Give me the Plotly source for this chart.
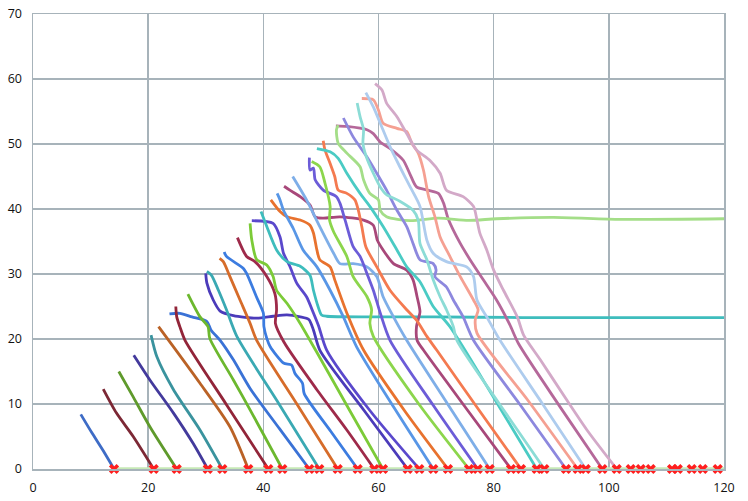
import plotly.graph_objects as go

# ---- data (x, y) ----
s01_x = [8.3, 10.2, 12.2, 14.07]
s01_y = [8.4, 5.6, 2.8, 0]
s02_x = [12.2, 14.5, 17.4, 20.96]
s02_y = [12.3, 8.6, 5.0, 0]
s03_x = [14.9, 17.4, 20.3, 24.96]
s03_y = [15.0, 11.1, 6.5, 0]
s04_x = [17.5, 20.3, 24.4, 27.8, 30.34]
s04_y = [17.5, 13.7, 8.6, 3.95, 0]
s05_x = [20.5, 21.5, 24.4, 29.0, 32.88]
s05_y = [20.6, 17.3, 12.2, 6.0, 0]
s06_x = [21.8, 24.4, 29.0, 34.2, 37.39]
s06_y = [21.9, 18.8, 13.2, 6.5, 0]
s07_x = [23.7, 25.5, 27.6, 30.2, 30.9, 32.5, 34.8, 37.7, 42.8, 47.98]
s07_y = [23.85, 23.95, 23.4, 22.7, 21.4, 19.8, 16.8, 12.4, 6.2, 0]
s08_x = [24.8, 24.96, 25.5, 26.4, 33.6, 40.87]
s08_y = [25.0, 23.4, 21.9, 19.8, 9.9, 0]
s09_x = [26.9, 29.0, 30.4, 30.7, 34.8, 37.7, 43.3]
s09_y = [26.9, 23.4, 21.9, 20.1, 13.7, 9.1, 0]
s10_x = [30.0, 30.2, 31.3, 32.5, 34.8, 38.9, 41.7, 44.1, 46.4, 47.9, 48.7, 49.8, 57.5, 65.07]
s10_y = [30.1, 28.6, 26.0, 24.3, 23.6, 23.2, 23.5, 23.7, 23.4, 23.0, 21.4, 18.3, 9.0, 0]
s11_x = [30.2, 31.0, 32.2, 33.6, 35.4, 42.8, 49.72]
s11_y = [30.4, 29.8, 27.5, 24.5, 20.4, 9.9, 0]
s12_x = [32.4, 33.05, 34.2, 35.95, 37.7, 38.85, 45.9, 52.92]
s12_y = [32.4, 31.9, 29.6, 26.0, 22.4, 19.8, 9.9, 0]
s13_x = [33.2, 33.6, 36.5, 37.1, 38.8, 40.0, 40.1, 40.6, 41.2, 43.5, 44.9, 45.5, 46.8, 47.1, 51.7, 56.39]
s13_y = [33.4, 32.7, 30.9, 30.1, 26.5, 24.0, 21.9, 20.1, 18.8, 16.3, 16.0, 14.7, 13.2, 11.6, 5.8, 0]
s14_x = [35.5, 37.1, 38.55, 40.6, 42.0, 42.3, 42.1, 43.6, 49.3, 54.5, 59.27]
s14_y = [35.6, 32.7, 31.9, 29.6, 27.0, 24.5, 22.4, 19.5, 12.2, 6.0, 0]
s15_x = [37.7, 38.0, 38.85, 40.6, 41.7, 42.3, 44.1, 46.4, 49.9, 55.0, 60.78]
s15_y = [37.8, 35.2, 32.2, 31.4, 29.6, 27.5, 25.5, 22.4, 17.0, 9.0, 0]
s16_x = [38.0, 41.7, 42.9, 43.5, 44.6, 45.8, 47.5, 48.7, 49.6, 51.0, 58.5, 67.09]
s16_y = [38.2, 37.8, 35.7, 33.2, 31.2, 28.6, 26.5, 24.0, 22.0, 18.3, 9.0, 0]
s17_x = [39.6, 40.6, 42.3, 44.1, 46.4, 48.1, 48.7, 49.5, 50.1, 51.0, 58.6, 69.5, 85.0, 100.0, 120.0]
s17_y = [39.6, 37.3, 33.7, 31.9, 31.2, 29.8, 27.5, 25.0, 23.7, 23.5, 23.4, 23.4, 23.3, 23.3, 23.3]
s18_x = [41.3, 42.9, 44.1, 46.4, 48.1, 48.7, 49.3, 49.8, 51.6, 52.4, 54.5, 57.4, 64.5, 72.07]
s18_y = [41.4, 39.6, 38.8, 38.3, 37.5, 36.3, 33.7, 32.2, 31.1, 29.1, 24.0, 18.3, 9.0, 0]
s19_x = [42.4, 42.9, 43.5, 45.2, 46.9, 49.3, 51.6, 53.9, 56.2, 62.8, 69.52]
s19_y = [42.4, 41.4, 39.8, 37.0, 33.7, 31.1, 27.5, 23.4, 18.8, 9.3, 0]
s20_x = [43.6, 44.6, 46.4, 48.1, 49.0, 50.4, 53.3, 57.4, 59.1, 59.8, 60.8, 62.6, 64.9, 66.0, 66.7, 67.2, 66.6, 66.7, 67.8, 75.5, 83.01]
s20_y = [43.5, 42.9, 41.9, 40.6, 38.8, 38.6, 38.8, 38.3, 37.5, 35.2, 33.7, 31.6, 30.6, 29.1, 26.5, 24.2, 21.9, 19.8, 18.3, 9.0, 0]
s21_x = [45.1, 47.5, 49.8, 52.2, 53.3, 55.6, 58.0, 59.7, 60.8, 62.6, 64.9, 72.0, 79.31]
s21_y = [45.0, 41.4, 37.3, 33.2, 31.6, 31.6, 31.1, 29.6, 26.5, 23.4, 19.8, 10.0, 0]
s22_x = [48.0, 48.1, 48.7, 49.0, 50.4, 52.7, 53.3, 54.2, 55.6, 56.8, 58.2, 59.1, 60.3, 62.0, 69.5, 77.23]
s22_y = [47.9, 46.0, 46.3, 44.5, 42.9, 41.9, 40.9, 38.3, 34.2, 32.7, 29.6, 27.5, 24.0, 19.8, 9.8, 0]
s23_x = [48.4, 49.8, 50.7, 51.6, 51.5, 52.2, 54.5, 55.6, 58.0, 58.8, 58.5, 59.1, 67.0, 75.72]
s23_y = [47.3, 46.5, 44.0, 40.4, 38.3, 36.5, 32.7, 29.6, 26.5, 24.5, 22.4, 20.4, 10.0, 0]
s24_x = [50.4, 50.7, 51.6, 52.4, 53.0, 54.5, 55.9, 56.5, 57.1, 57.8, 59.7, 62.0, 64.9, 66.6, 68.4, 70.1, 77.5, 84.75]
s24_y = [50.5, 49.1, 47.0, 45.0, 42.9, 42.4, 41.4, 39.8, 37.3, 34.2, 31.1, 27.5, 24.5, 22.9, 20.4, 18.3, 9.0, 0]
s25_x = [49.3, 51.6, 53.0, 54.5, 56.8, 58.5, 60.8, 63.2, 64.9, 67.2, 69.5, 72.4, 80.0, 87.48]
s25_y = [49.3, 48.8, 47.8, 45.5, 42.4, 40.4, 37.3, 33.7, 31.1, 28.8, 25.0, 21.9, 11.0, 0]
s26_x = [52.6, 54.5, 58.0, 59.1, 60.3, 62.3, 64.3, 65.5, 66.6, 68.5, 70.4, 71.3, 72.1, 74.2, 75.9, 78.2, 80.5, 82.8, 84.3, 91.5, 98.87]
s26_y = [52.8, 52.7, 52.2, 51.6, 50.3, 49.1, 47.5, 45.3, 43.4, 42.9, 42.4, 40.9, 38.5, 34.7, 32.2, 29.1, 26.0, 22.2, 19.3, 9.6, 0]
s27_x = [53.0, 52.7, 53.0, 54.5, 56.8, 57.4, 58.5, 60.0, 60.3, 61.4, 65.5, 70.4, 75.6, 80.5, 90.4, 102.0, 120.0]
s27_y = [52.9, 52.2, 50.1, 48.6, 46.5, 44.5, 42.4, 41.4, 39.8, 38.8, 38.2, 38.6, 38.25, 38.5, 38.7, 38.4, 38.5]
s28_x = [53.9, 55.6, 58.0, 59.7, 61.4, 63.2, 64.9, 66.0, 67.2, 69.5, 70.0, 69.8, 71.8, 73.0, 74.7, 76.5, 84.5, 92.57]
s28_y = [54.0, 51.1, 48.0, 45.5, 42.9, 39.8, 37.3, 34.7, 32.2, 31.6, 30.6, 29.6, 28.0, 26.0, 23.4, 19.8, 10.0, 0]
s29_x = [56.3, 56.8, 57.4, 57.3, 57.9, 59.1, 60.3, 61.4, 63.7, 66.0, 66.9, 67.2, 68.4, 69.5, 70.7, 71.8, 73.0, 73.6, 81.0, 88.80]
s29_y = [56.3, 54.2, 52.2, 50.1, 48.0, 45.5, 43.4, 42.2, 41.2, 39.8, 38.3, 34.7, 32.2, 29.1, 26.5, 24.5, 21.9, 19.8, 10.0, 0]
s30_x = [57.1, 59.1, 60.0, 60.8, 63.2, 64.9, 65.8, 66.9, 67.8, 68.7, 69.8, 70.7, 72.4, 74.2, 76.5, 77.3, 76.8, 77.1, 86.0, 94.60]
s30_y = [57.0, 56.8, 55.2, 53.2, 52.4, 51.9, 50.1, 48.6, 46.0, 41.9, 38.8, 35.7, 32.7, 29.6, 26.0, 24.5, 22.9, 20.9, 10.5, 0]
s31_x = [57.8, 59.1, 60.3, 62.0, 63.7, 65.5, 67.2, 68.4, 69.5, 71.8, 75.3, 76.5, 77.1, 78.8, 81.1, 88.5, 95.99]
s31_y = [57.9, 55.7, 53.2, 49.6, 46.5, 43.4, 40.4, 35.2, 33.2, 31.9, 31.1, 29.6, 26.0, 23.4, 19.8, 10.0, 0]
s32_x = [59.4, 60.6, 61.4, 63.2, 64.9, 66.6, 68.9, 70.7, 71.8, 74.7, 76.5, 77.1, 77.6, 78.8, 80.0, 81.7, 84.1, 85.2, 88.1, 92.7, 96.2, 101.37]
s32_y = [59.3, 58.3, 56.3, 54.2, 51.6, 49.1, 47.5, 45.5, 42.9, 41.9, 40.4, 38.3, 36.3, 33.7, 30.6, 27.5, 23.4, 20.6, 16.8, 10.6, 6.0, 0]

# series colours (six hues, getting lighter)
colors = [
    "#3E6CC6", "#7C2835", "#5F9A2C", "#433A9C", "#3A939E", "#BA6226",
    "#3A72D6", "#922539", "#6CB82E", "#4B3BBA", "#3AA9B3", "#D66C2A",
    "#3C7CE0", "#9E2A4A", "#7CCB38", "#5A48CC", "#3EBDBD", "#E8722E",
    "#5896E6", "#A8487A", "#7EAEE8", "#6C5CD8", "#8CD64C", "#F47A50",
    "#4ACBC4", "#B5689A", "#A4DE88", "#8D88DE", "#8CDCD6", "#F5A092",
    "#AECCEE", "#D3A9C8",
]

# base line and end markers at y = 0
base_x = [14.07, 120.0]
base_y = [0, 0]
marker_x = [14.07, 20.96, 24.96, 30.34, 32.88, 37.39, 40.87, 43.30, 47.98, 49.72,
            52.92, 56.39, 59.27, 60.78, 65.07, 67.09, 69.52, 72.07, 75.72, 77.23,
            79.31, 83.01, 84.75, 87.48, 88.80, 92.57, 94.60, 95.99, 98.87, 101.37,
            103.80, 105.54, 107.28, 110.98, 111.97, 114.40, 116.31, 118.91]
marker_y = [0] * len(marker_x)

xs = [s01_x, s02_x, s03_x, s04_x, s05_x, s06_x, s07_x, s08_x, s09_x, s10_x,
      s11_x, s12_x, s13_x, s14_x, s15_x, s16_x, s17_x, s18_x, s19_x, s20_x,
      s21_x, s22_x, s23_x, s24_x, s25_x, s26_x, s27_x, s28_x, s29_x, s30_x,
      s31_x, s32_x]
ys = [s01_y, s02_y, s03_y, s04_y, s05_y, s06_y, s07_y, s08_y, s09_y, s10_y,
      s11_y, s12_y, s13_y, s14_y, s15_y, s16_y, s17_y, s18_y, s19_y, s20_y,
      s21_y, s22_y, s23_y, s24_y, s25_y, s26_y, s27_y, s28_y, s29_y, s30_y,
      s31_y, s32_y]

fig = go.Figure()
fig.add_trace(go.Scatter(x=base_x, y=base_y, mode="lines",
                         line=dict(color="#C6E9B6", width=3.5),
                         hoverinfo="skip", showlegend=False, cliponaxis=False))
for x, y, c in zip(xs, ys, colors):
    fig.add_trace(go.Scatter(x=x, y=y, mode="lines",
                             line=dict(color=c, width=2.8, shape="spline", smoothing=0.7),
                             hoverinfo="skip", showlegend=False))
fig.add_trace(go.Scatter(x=marker_x, y=marker_y, mode="markers",
                         marker=dict(symbol="x", size=9, color="#FF1F1F",
                                     line=dict(width=0)),
                         hoverinfo="skip", showlegend=False, cliponaxis=False))

grid = "#A7B3BA"
fig.update_layout(
    width=748, height=501,
    margin=dict(l=33, r=24, t=14, b=32, autoexpand=False),
    paper_bgcolor="white", plot_bgcolor="white",
    font=dict(family="Open Sans, Liberation Sans, sans-serif", size=12.5, color="#111111"),
    showlegend=False,
    hovermode=False,
)
fig.update_xaxes(range=[0, 120], dtick=20, tick0=0, showgrid=True, gridcolor=grid,
                 gridwidth=1.5, zeroline=False, showline=True, linecolor=grid,
                 linewidth=1.5, mirror=True, ticks="", ticklabelstandoff=6,
                 automargin=False, fixedrange=True)
fig.update_yaxes(range=[0, 70], dtick=10, tick0=0, showgrid=True, gridcolor=grid,
                 gridwidth=1.5, zeroline=False, showline=True, linecolor=grid,
                 linewidth=1.5, mirror=True, ticks="", ticklabelstandoff=7,
                 automargin=False, fixedrange=True)

fig.write_html("out.html", config={"displayModeBar": False, "staticPlot": True},
               post_script="document.body.style.margin='0';")
